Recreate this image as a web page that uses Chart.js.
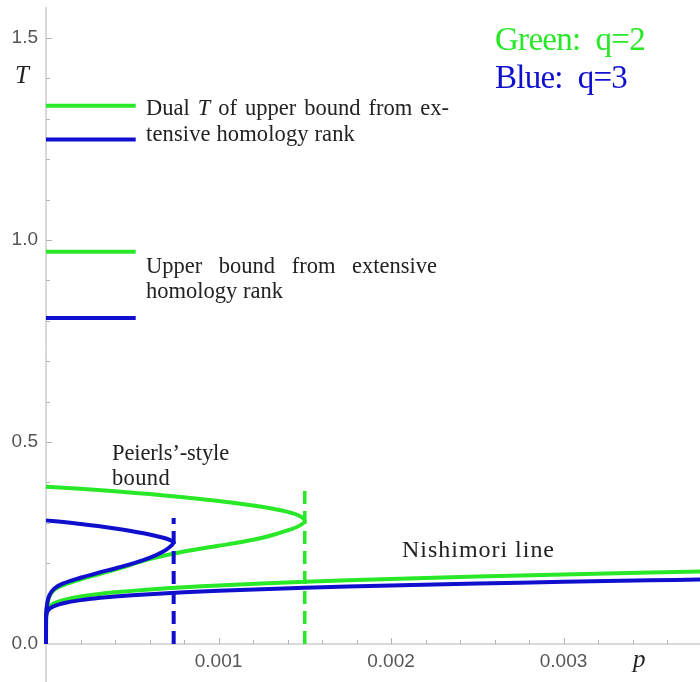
<!DOCTYPE html>
<html>
<head>
<meta charset="utf-8">
<style>
  html, body { margin: 0; padding: 0; background: #fff; }
  #wrap { width: 700px; height: 682px; }
</style>
</head>
<body>
<div id="wrap"><canvas id="chart" width="700" height="682"></canvas></div>
<script src="https://cdn.jsdelivr.net/npm/chart.js@4.4.1/dist/chart.umd.min.js"></script>
<script>
  // Nishimori lines (q=2 green, q=3 blue)
  const pNishimori   = [0, 1e-9, 1e-7, 1e-6, 4e-6, 1e-5, 2.5e-5, 5e-5, 1e-4, 2e-4, 3e-4, 4e-4, 6e-4, 8e-4, 0.001, 0.0015, 0.002, 0.0025, 0.003, 0.0035, 0.0038];
  const tNishimoriQ2 = [0, 0.048, 0.062, 0.0724, 0.0805, 0.0869, 0.0943, 0.101, 0.1086, 0.1174, 0.1233, 0.1278, 0.1348, 0.1403, 0.1448, 0.1538, 0.161, 0.167, 0.1722, 0.177, 0.1796];
  const tNishimoriQ3 = [0, 0.0467, 0.0595, 0.069, 0.0762, 0.082, 0.0886, 0.0943, 0.101, 0.1086, 0.1136, 0.1174, 0.1233, 0.1278, 0.1316, 0.139, 0.1448, 0.1497, 0.1539, 0.1575, 0.1596];

  // Peierls'-style bound, traced upper branch -> tip -> lower branch
  const pPeierlsQ2 = [0, 0.0002, 0.0004, 0.0006, 0.0008, 0.001, 0.0012, 0.0013, 0.0014, 0.00147, 0.0015,
                      0.00147, 0.0014, 0.0013, 0.0012, 0.001, 0.0008, 0.0006, 0.0004, 0.0002, 0.0001, 0.00005, 0.00002, 0.000007, 0.000001, 0];
  const tPeierlsQ2 = [0.389, 0.384, 0.378, 0.371, 0.363, 0.354, 0.343, 0.336, 0.327, 0.317, 0.305,
                      0.293, 0.281, 0.268, 0.258, 0.243, 0.229, 0.210, 0.184, 0.160, 0.146, 0.135, 0.118, 0.097, 0.073, 0];
  const pPeierlsQ3 = [0, 0.0001, 0.0002, 0.0003, 0.0004, 0.0005, 0.0006, 0.00068, 0.00072, 0.00074,
                      0.00072, 0.00068, 0.0006, 0.0005, 0.0004, 0.0003, 0.0002, 0.0001, 0.00005, 0.00002, 0.000007, 0.000001, 0];
  const tPeierlsQ3 = [0.306, 0.302, 0.297, 0.292, 0.286, 0.279, 0.271, 0.263, 0.257, 0.252,
                      0.241, 0.229, 0.213, 0.199, 0.187, 0.176, 0.164, 0.150, 0.138, 0.121, 0.100, 0.075, 0];

  // dashed verticals at the tip of each bound
  const pDashQ2 = [0.0015, 0.0015];
  const tDashQ2 = [0, 0.392];
  const pDashQ3 = [0.00074, 0.00074];
  const tDashQ3 = [0, 0.312];

  // short marks for the homology rank bounds
  const pMark = [0, 0.00052];
  const tDualQ2 = [1.332, 1.332];
  const tDualQ3 = [1.249, 1.249];
  const tUpperQ2 = [0.971, 0.971];
  const tUpperQ3 = [0.807, 0.807];

  const xTicks = [0.001, 0.002, 0.003];
  const yTicks = [0, 0.5, 1.0, 1.5];

  const GREEN = 'rgb(40,232,40)';
  const BLUE = 'rgb(15,15,205)';
  const AXIS = '#b4b4b4';
  const SERIF = '"Liberation Serif", serif';

  const pts = (xs, ys) => xs.map((x, i) => ({ x: x, y: ys[i] }));

  const line = (label, xs, ys, color, extra) => Object.assign({
    label: label,
    data: pts(xs, ys),
    borderColor: color,
    backgroundColor: color,
    borderWidth: 4,
    pointRadius: 0,
    showLine: true,
    fill: false,
    tension: 0.35,
    clip: false
  }, extra || {});

  // fits one line of text to a width using letter spacing
  function fit(ctx, text, x, y, width) {
    ctx.letterSpacing = '0px';
    const w = ctx.measureText(text).width;
    ctx.letterSpacing = ((width - w) / text.length) + 'px';
    ctx.fillText(text, x, y);
    ctx.letterSpacing = '0px';
  }

  // spreads words over a width, each word [text, font]
  function justify(ctx, words, x, y, width) {
    let total = 0;
    const ws = words.map(w => { ctx.font = w[1]; const m = ctx.measureText(w[0]).width; total += m; return m; });
    const gap = (width - total) / (words.length - 1);
    let cx = x;
    words.forEach((w, i) => { ctx.font = w[1]; ctx.fillText(w[0], cx, y); cx += ws[i] + gap; });
  }

  const noPad = (s) => { s.paddingTop = 0; s.paddingBottom = 0; s.paddingLeft = 0; s.paddingRight = 0; };

  const decor = {
    id: 'decor',
    beforeDatasetsDraw(chart) {
      const ctx = chart.ctx;
      const xs = chart.scales.x, ys = chart.scales.y;
      const x0 = xs.getPixelForValue(0), y0 = ys.getPixelForValue(0);
      ctx.save();
      ctx.strokeStyle = AXIS;
      ctx.lineWidth = 1;
      ctx.beginPath();
      ctx.moveTo(x0, 7); ctx.lineTo(x0, chart.height);
      ctx.moveTo(x0, y0); ctx.lineTo(chart.width, y0);
      // minor + major ticks, drawn inside the plot
      for (let k = 1; k <= 15; k++) {
        const py = Math.round(ys.getPixelForValue(k / 10)) + 0.5;
        const len = k % 5 === 0 ? 6 : 4;
        ctx.moveTo(x0, py); ctx.lineTo(x0 + len, py);
      }
      for (let k = 1; k <= 18; k++) {
        const px = Math.round(xs.getPixelForValue(k * 0.0002)) + 0.5;
        const len = k % 5 === 0 ? 6 : 4;
        ctx.moveTo(px, y0); ctx.lineTo(px, y0 - len);
      }
      ctx.stroke();
      ctx.restore();
    },
    afterDatasetsDraw(chart) {
      const ctx = chart.ctx;
      ctx.save();
      ctx.fillStyle = '#222';
      ctx.textBaseline = 'alphabetic';
      const f = '22.5px ' + SERIF, fi = 'italic 22.5px ' + SERIF;
      justify(ctx, [['Dual', f], ['T', fi], ['of', f], ['upper', f], ['bound', f], ['from', f], ['ex-', f]], 146, 115, 303);
      ctx.font = f;
      fit(ctx, 'tensive homology rank', 146, 141, 209);
      justify(ctx, [['Upper', f], ['bound', f], ['from', f], ['extensive', f]], 146, 273, 291);
      ctx.font = f;
      fit(ctx, 'homology rank', 146, 298, 137);
      fit(ctx, 'Peierls\u2019-style', 112, 460, 117);
      fit(ctx, 'bound', 112, 485, 58);
      ctx.font = '24px ' + SERIF;
      fit(ctx, 'Nishimori line', 402, 557, 153);

      ctx.font = '33px ' + SERIF;
      ctx.fillStyle = GREEN;
      fit(ctx, 'Green:  q=2', 495, 50, 150);
      ctx.fillStyle = BLUE;
      fit(ctx, 'Blue:  q=3', 495, 88, 132);

      ctx.fillStyle = '#222';
      ctx.font = 'italic 25px ' + SERIF;
      ctx.fillText('T', 15, 83);
      ctx.fillText('p', 633, 667);
      ctx.restore();
    }
  };

  const datasets = [
    line('Upper q=3', pMark, tUpperQ3, BLUE, { tension: 0 }),
    line('Dual q=3', pMark, tDualQ3, BLUE, { tension: 0 }),
    line('Peierls dash q=3', pDashQ3, tDashQ3, BLUE, { tension: 0, borderWidth: 4, borderDash: [13, 7] }),
    line('Nishimori q=3', pNishimori, tNishimoriQ3, BLUE),
    line('Peierls q=3', pPeierlsQ3, tPeierlsQ3, BLUE),
    line('Upper q=2', pMark, tUpperQ2, GREEN, { tension: 0 }),
    line('Dual q=2', pMark, tDualQ2, GREEN, { tension: 0 }),
    line('Peierls dash q=2', pDashQ2, tDashQ2, GREEN, { tension: 0, borderWidth: 3.5, borderDash: [13, 7] }),
    line('Nishimori q=2', pNishimori, tNishimoriQ2, GREEN),
    line('Peierls q=2', pPeierlsQ2, tPeierlsQ2, GREEN)
  ];

  new Chart(document.getElementById('chart').getContext('2d'), {
    type: 'scatter',
    data: { datasets: datasets },
    options: {
      responsive: false,
      devicePixelRatio: 1,
      animation: false,
      layout: { padding: 0 },
      plugins: { legend: { display: false }, tooltip: { enabled: false } },
      scales: {
        x: {
          type: 'linear',
          min: 0,
          max: 0.003791,
          grid: { display: false, drawTicks: false },
          border: { display: false },
          afterFit: (s) => { s.height = 38; noPad(s); },
          afterBuildTicks: (s) => { s.ticks = xTicks.map(v => ({ value: v })); },
          ticks: {
            callback: (v) => Number(v).toFixed(3),
            color: '#555',
            font: { family: '"Liberation Sans", sans-serif', size: 19 },
            padding: 6,
            maxRotation: 0,
            autoSkip: false
          }
        },
        y: {
          type: 'linear',
          min: 0,
          max: 1.594,
          grid: { display: false, drawTicks: false },
          border: { display: false },
          afterFit: (s) => { s.width = 46; noPad(s); },
          afterBuildTicks: (s) => { s.ticks = yTicks.map(v => ({ value: v })); },
          ticks: {
            callback: (v) => Number(v).toFixed(1),
            color: '#555',
            font: { family: '"Liberation Sans", sans-serif', size: 19 },
            padding: 8
          }
        }
      }
    },
    plugins: [decor]
  });
</script>
</body>
</html>
